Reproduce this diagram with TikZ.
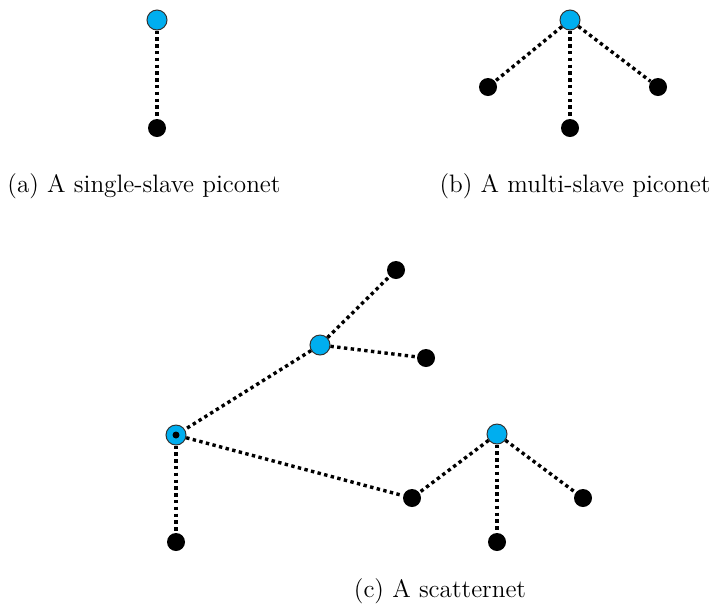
\documentclass[tikz,border=0pt]{standalone}
\definecolor{mastercol}{RGB}{0,174,239}
\begin{document}
\begin{tikzpicture}[x=0.5pt,y=-0.5pt,
  master/.style={circle,draw=black!80,line width=0.5pt,fill=mastercol,minimum size=10pt,inner sep=0pt},
  slave/.style={circle,fill=black,minimum size=9pt,inner sep=0pt},
  link/.style={line width=1.7pt,dash pattern=on 1.7pt off 1.7pt},
  captext/.style={font=\fontsize{12.6}{15}\selectfont}]
\useasboundingbox (0,0) rectangle (722,612);
% (a)
\node[master] (am) at (157,20) {};
\node[slave] (as) at (157,128) {};
\draw[link] (am) -- (as);
\node[captext] (ca) at (144,186) {(a) A single-slave piconet};
% (b)
\node[master] (bm) at (570,20) {};
\node[slave] (bs1) at (488,87) {};
\node[slave] (bs2) at (570,128) {};
\node[slave] (bs3) at (658,87) {};
\draw[link] (bm) -- (bs1);
\draw[link] (bm) -- (bs2);
\draw[link] (bm) -- (bs3);
\node[captext] (cb) at (575,186) {(b) A multi-slave piconet};
% (c)
\node[master] (m1) at (320,345) {};
\node[slave] (s11) at (396,270) {};
\node[slave] (s12) at (426,358) {};
\node[master] (m2) at (176,435) {};
\node[slave,minimum size=3.5pt] (m2dot) at (176,435) {};
\node[slave] (s21) at (176,542) {};
\node[slave] (s22) at (412,498) {};
\node[master] (m3) at (497,434) {};
\node[slave] (s31) at (497,542) {};
\node[slave] (s32) at (583,498) {};
\draw[link] (m1) -- (s11);
\draw[link] (m1) -- (s12);
\draw[link] (m1) -- (m2);
\draw[link] (m2) -- (s21);
\draw[link] (m2) -- (s22);
\draw[link] (m3) -- (s22);
\draw[link] (m3) -- (s31);
\draw[link] (m3) -- (s32);
\node[captext] (cc) at (440,591) {(c) A scatternet};
\end{tikzpicture}
\end{document}
